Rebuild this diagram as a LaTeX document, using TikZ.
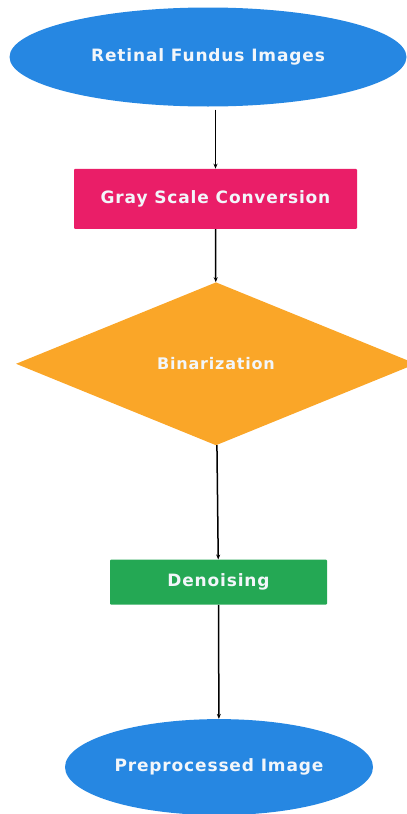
\documentclass[tikz,border=0pt]{standalone}
\usepackage{fontspec}
\setmainfont{DejaVu Sans}
\newfontfamily\boxlabelfont[LetterSpace=5]{DejaVu Sans}
\usetikzlibrary{positioning}
\usetikzlibrary{shapes.geometric}
\usetikzlibrary{arrows.meta}
\definecolor{fundusblue}{RGB}{38,135,226}
\definecolor{graypink}{RGB}{234,30,104}
\definecolor{binorange}{RGB}{250,166,40}
\definecolor{denoisegreen}{RGB}{36,168,84}
\definecolor{labelwhite}{RGB}{242,246,250}
\tikzset{
        terminal/.style={
          ellipse, fill=fundusblue, text=labelwhite, font=\boxlabelfont\fontsize{17}{20}\selectfont\bfseries
          },
        process/.style={
          rectangle, rounded corners=1pt, text=labelwhite, font=\boxlabelfont\fontsize{17}{20}\selectfont\bfseries
          },
        decision/.style={
          diamond, fill=binorange, text=labelwhite, font=\boxlabelfont\fontsize{16}{19}\selectfont\bfseries
          },
        flow/.style={-{Stealth[length=5pt,width=4pt]}, line width=1.5pt, black},
}

\begin{document}
\begin{tikzpicture}[x=1pt, y=1pt]
      \useasboundingbox (0,0) rectangle (407,-814);
      % \draw[help lines, dashed] (0,0) grid[step=50] (407,-814);
      % INPUT
      \node[terminal, minimum width=397pt, minimum height=99pt] (fundus) at (208,-57) {Retinal Fundus Images};

      % PREPROCESSING STEPS
      \node[process, fill=graypink, minimum width=283pt, minimum height=60pt,
            below=62pt of fundus, xshift=7.5pt] (grayscale) {Gray Scale Conversion};
      \node[decision, minimum width=400pt, minimum height=163pt,
            below=53pt of grayscale, xshift=0.5pt] (binarize) {Binarization};
      \node[process, fill=denoisegreen, minimum width=217pt, minimum height=45pt,
            below=114pt of binarize, xshift=2.5pt] (denoise) {Denoising};

      % OUTPUT
      \node[terminal, minimum width=308pt, minimum height=96pt,
            below=114pt of denoise, xshift=0.5pt] (preproc) {Preprocessed Image};

      % ARROWS
      \draw[flow] ([yshift=-3pt]fundus.south -| grayscale.north) -- (grayscale.north);
      \draw[flow] (grayscale) -- (binarize);
      \draw[flow] (binarize) -- (denoise);
      \draw[flow] (denoise) -- (preproc);
\end{tikzpicture}
\end{document}
